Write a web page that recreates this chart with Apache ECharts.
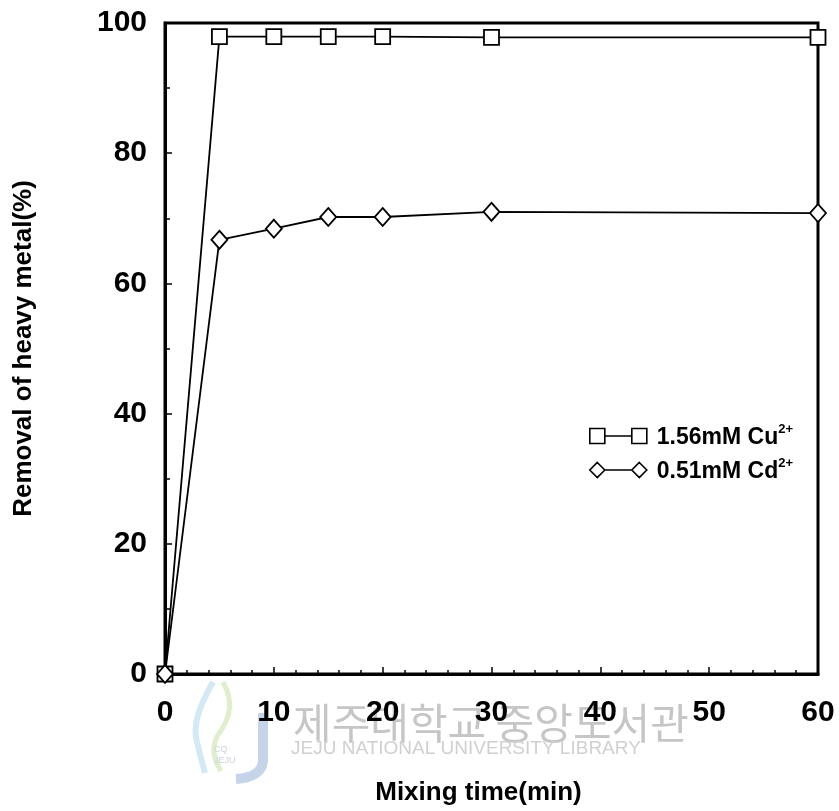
<!DOCTYPE html>
<html>
<head>
<meta charset="utf-8">
<script src="https://cdn.jsdelivr.net/npm/echarts@6/dist/echarts.min.js"></script>
<style>
  html, body { margin: 0; padding: 0; background: #fff; }
  #chart { width: 839px; height: 811px; }
</style>
</head>
<body>
<div id="chart"></div>
<script>
// Mixing time (min) and removal (%) of each heavy metal
const mixingTime = [0, 5, 10, 15, 20, 30, 60];
const cuRemoval = [0, 97.9, 97.9, 97.9, 97.9, 97.8, 97.8];
const cdRemoval = [0, 66.7, 68.4, 70.2, 70.2, 71.0, 70.8];
const seriesNames = ['1.56mM Cu', '0.51mM Cd'];

const FONT = "'Liberation Sans', Arial, sans-serif";

function pairs(xs, ys) { return xs.map((x, i) => [x, ys[i]]); }

function curve(x1, y1, cpx1, cpy1, cpx2, cpy2, x2, y2, stroke, lineWidth) {
  return {
    type: 'bezierCurve', silent: true, z: -1,
    shape: { x1: x1, y1: y1, cpx1: cpx1, cpy1: cpy1, cpx2: cpx2, cpy2: cpy2, x2: x2, y2: y2 },
    style: { fill: null, stroke: stroke, lineWidth: lineWidth }
  };
}

const chart = echarts.init(document.getElementById('chart'), null, { renderer: 'canvas' });

// legend glyphs: marker - dash - marker
const squareIcon = 'path://M0,0H15V15H0Z M15,7.5H42 M42,0H57V15H42Z';
const diamondIcon = 'path://M7.5,0L15,7.5L7.5,15L0,7.5Z M15,7.5H42 M49.5,0L57,7.5L49.5,15L42,7.5Z';

chart.setOption({
  backgroundColor: '#fff',
  animation: false,
  grid: { left: 165, top: 23, right: 21, bottom: 135, show: true, borderColor: '#000', borderWidth: 3, backgroundColor: 'transparent' },
  xAxis: {
    type: 'value', min: 0, max: 60, interval: 10,
    name: 'Mixing time(min)', nameLocation: 'middle', nameGap: 106,
    nameTextStyle: { fontFamily: FONT, fontWeight: 'bold', fontSize: 26, color: '#000', padding: [0, 26, 0, 0] },
    axisLine: { show: true, lineStyle: { color: '#000', width: 3 } },
    axisTick: { show: true, inside: true, length: 7, lineStyle: { color: '#000', width: 1.5 } },
    minorTick: { show: true, splitNumber: 5, length: 4, lineStyle: { color: '#000', width: 1.5 } },
    splitLine: { show: false },
    axisLabel: { margin: 24, fontFamily: FONT, fontWeight: 'bold', fontSize: 30, color: '#000' }
  },
  yAxis: {
    type: 'value', min: 0, max: 100, interval: 20,
    name: 'Removal of heavy metal(%)', nameLocation: 'middle', nameGap: 128,
    nameTextStyle: { fontFamily: FONT, fontWeight: 'bold', fontSize: 26, color: '#000' },
    axisLine: { show: true, lineStyle: { color: '#000', width: 3 } },
    axisTick: { show: true, inside: true, length: 7, lineStyle: { color: '#000', width: 1.5 } },
    minorTick: { show: true, splitNumber: 2, length: 5, lineStyle: { color: '#000', width: 1.5 } },
    splitLine: { show: false },
    axisLabel: { margin: 18, fontFamily: FONT, fontWeight: 'bold', fontSize: 30, color: '#000' }
  },
  legend: {
    orient: 'vertical', left: 584, top: 418, itemGap: 8,
    itemWidth: 57, itemHeight: 15,
    itemStyle: { color: '#fff', borderColor: '#000', borderWidth: 1.6 },
    data: [
      { name: seriesNames[0], icon: squareIcon },
      { name: seriesNames[1], icon: diamondIcon }
    ],
    formatter: function (name) {
      return '{t|' + name + '}{s|2+}';
    },
    textStyle: {
      color: '#000',
      rich: {
        t: { fontFamily: FONT, fontWeight: 'bold', fontSize: 23, color: '#000', lineHeight: 26, verticalAlign: 'bottom', padding: [0, 0, 0, 5] },
        s: { fontFamily: FONT, fontWeight: 'bold', fontSize: 13, color: '#000', lineHeight: 14, verticalAlign: 'top' }
      }
    }
  },
  graphic: [
    // library emblem
    curve(213, 682, 200, 705, 192, 725, 197, 742, '#d3e9f4', 6),
    curve(197, 742, 200, 755, 203, 765, 205, 773, '#d3e9f4', 6),
    curve(223, 682, 233, 700, 232, 716, 218, 735, '#dfeecd', 5),
    curve(218, 735, 210, 748, 214, 760, 221, 771, '#dfeecd', 5),
    { type: 'line', silent: true, z: -1, shape: { x1: 263, y1: 713, x2: 263, y2: 760 },
      style: { stroke: '#c6d4ea', lineWidth: 10 } },
    curve(263, 760, 263, 772, 252, 778, 236, 779, '#c6d4ea', 10),
    { type: 'text', silent: true, z: -1, left: 214, top: 744,
      style: { text: 'CQ\nJEJU', fontFamily: FONT, fontSize: 9, lineHeight: 11, fill: '#cdd3dd', align: 'center' } },
    // library watermark
    {
      type: 'text', left: 293, top: 702, silent: true, z: -1,
      style: { text: '제주대학교 중앙도서관', fontFamily: "'Noto Sans CJK KR', sans-serif", fontSize: 42, fill: '#c6c6c6' }
    },
    {
      type: 'text', left: 291, top: 739, silent: true, z: -1,
      style: { text: 'JEJU NATIONAL UNIVERSITY LIBRARY', fontFamily: FONT, fontSize: 19, fill: '#d0d0d0' }
    }
  ],
  series: [
    {
      name: seriesNames[0], type: 'line', data: pairs(mixingTime, cuRemoval),
      symbol: 'rect', symbolSize: 15, clip: false, z: 3,
      lineStyle: { color: '#000', width: 1.8 },
      itemStyle: { color: '#fff', borderColor: '#000', borderWidth: 1.8 }
    },
    {
      name: seriesNames[1], type: 'line', data: pairs(mixingTime, cdRemoval),
      symbol: 'diamond', symbolSize: [16, 18], clip: false, z: 3,
      lineStyle: { color: '#000', width: 1.8 },
      itemStyle: { color: '#fff', borderColor: '#000', borderWidth: 1.8 }
    }
  ]
});
</script>
</body>
</html>
